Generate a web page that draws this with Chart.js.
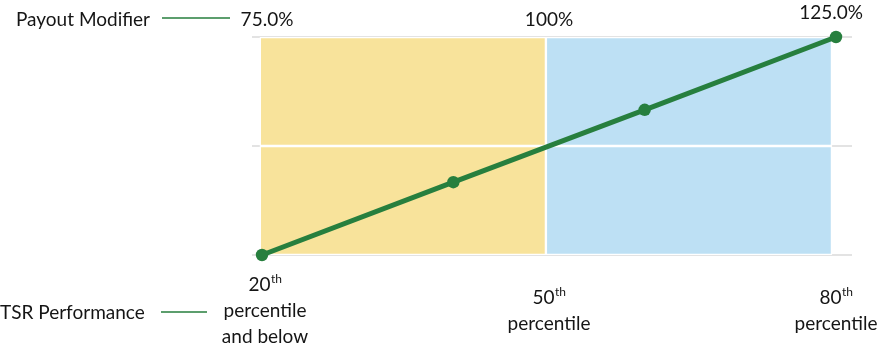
<!DOCTYPE html>
<html lang="en-US">
<head>
<meta charset="utf-8">
<title>TSR Payout Modifier</title>
<script src="https://cdn.jsdelivr.net/npm/chart.js@4.4.1/dist/chart.umd.min.js"></script>
<style>
	html, body { margin: 0; padding: 0; background: #fff; }
	#holder { width: 882px; height: 350px; }
</style>
</head>
<body>
<div id="holder"><canvas id="chart"></canvas></div>
<script>
	// TSR percentile axis
	const tsrTicks = [20, 50, 80];
	const tickOrdinals = ['20', '50', '80'];
	const tickCaptions = [['percentile', 'and below'], ['percentile'], ['percentile']];

	// payout modifier axis
	const payoutTicks = [75, 100, 125];
	const payoutLabels = ['75.0%', '100%', '125.0%'];

	// payout curve
	const tsrPoints = [20, 40, 60, 80];
	const payoutPoints = [75, 91.7, 108.3, 125];

	// shaded ranges below / above median
	const bandFrom = [19.8, 49.65];
	const bandTo = [49.65, 79.6];
	const bandColors = ['#f8e39b', '#bde0f4'];

	const GREEN = '#277f3e';
	const TEXT = '#151515';
	const FONT = 'Lato, "Open Sans", sans-serif';

	const bandData = (lo, hi) => bandFrom.map((f, i) => ({ x: (f + bandTo[i]) / 2, y: [lo, hi] }));

	const bandDataset = (lo, hi, order) => ({
		type: 'bar',
		data: bandData(lo, hi),
		backgroundColor: bandColors,
		borderColor: '#ffffff',
		borderWidth: 1.5,
		borderSkipped: false,
		grouped: false,
		barPercentage: 1,
		categoryPercentage: 1,
		order: order
	});

	const labelsPlugin = {
		id: 'sideLabels',
		afterDraw(chart) {
			const ctx = chart.ctx;
			const xs = chart.scales.x, ys = chart.scales.y;
			ctx.save();
			ctx.fillStyle = TEXT;
			ctx.textBaseline = 'middle';

			// row captions with their leader lines
			ctx.font = '19px ' + FONT;
			ctx.textAlign = 'left';
			ctx.fillText('Payout Modifier', 16, 20);
			ctx.fillText('TSR Performance', 0, 313);
			ctx.strokeStyle = GREEN;
			ctx.lineWidth = 1.5;
			ctx.beginPath();
			ctx.moveTo(162, 18); ctx.lineTo(230, 18);
			ctx.moveTo(161, 312); ctx.lineTo(207, 312);
			ctx.stroke();

			// payout values across the top, end labels pulled slightly inward
			ctx.textAlign = 'center';
			const last = payoutLabels.length - 1;
			payoutLabels.forEach((txt, i) => {
				const nudge = i === 0 ? 5 : (i === last ? -5 : 0);
				const x = xs.getPixelForValue(tsrTicks[i]) + nudge;
				const y = Math.min(20, ys.getPixelForValue(payoutTicks[i]) - 24);
				ctx.fillText(txt, x, y);
			});

			// percentile labels along the bottom
			const lineH = 26, mid = 310.5;
			tickOrdinals.forEach((num, i) => {
				const x = xs.getPixelForValue(tsrTicks[i]) + (i === 0 ? 3 : 0);
				const lines = 1 + tickCaptions[i].length;
				let y = mid - (lines - 1) * lineH / 2;
				ctx.font = '19px ' + FONT;
				const w1 = ctx.measureText(num).width;
				ctx.font = '12px ' + FONT;
				const w2 = ctx.measureText('th').width;
				const left = x - (w1 + w2) / 2;
				ctx.textAlign = 'left';
				ctx.font = '19px ' + FONT;
				ctx.fillText(num, left, y);
				ctx.font = '12px ' + FONT;
				ctx.fillText('th', left + w1 + 0.5, y - 5);
				ctx.textAlign = 'center';
				ctx.font = '19px ' + FONT;
				tickCaptions[i].forEach(c => {
					y += lineH;
					ctx.fillText(c, x, y);
				});
			});
			ctx.restore();
		}
	};

	const config = {
		type: 'line',
		data: {
			datasets: [{
				data: tsrPoints.map((x, i) => ({ x: x, y: payoutPoints[i] })),
				borderColor: GREEN,
				backgroundColor: GREEN,
				borderWidth: 5,
				pointRadius: 6.2,
				pointBorderWidth: 0,
				clip: false,
				order: 0
			},
			bandDataset(payoutTicks[1], payoutTicks[2], 1),
			bandDataset(payoutTicks[0], payoutTicks[1], 2)]
		},
		options: {
			responsive: true,
			maintainAspectRatio: false,
			animation: false,
			layout: { padding: { left: 252, right: 30, top: 37, bottom: 95 } },
			plugins: { legend: { display: false }, tooltip: { enabled: false } },
			scales: {
				x: {
					type: 'linear',
					min: 18.955,
					max: 81.67,
					offset: false,
					display: false,
					grid: { offset: false },
					afterBuildTicks: (scale) => { scale.ticks = tsrTicks.map(v => ({ value: v })); }
				},
				y: {
					type: 'linear',
					min: payoutTicks[0],
					max: payoutTicks[2],
					afterBuildTicks: (scale) => { scale.ticks = payoutTicks.map(v => ({ value: v })); },
					ticks: { display: false },
					border: { display: false },
					grid: { color: '#e3e3e3', lineWidth: 2, drawTicks: false }
				}
			}
		},
		plugins: [labelsPlugin]
	};

	new Chart(document.getElementById('chart').getContext('2d'), config);
</script>
</body>
</html>
